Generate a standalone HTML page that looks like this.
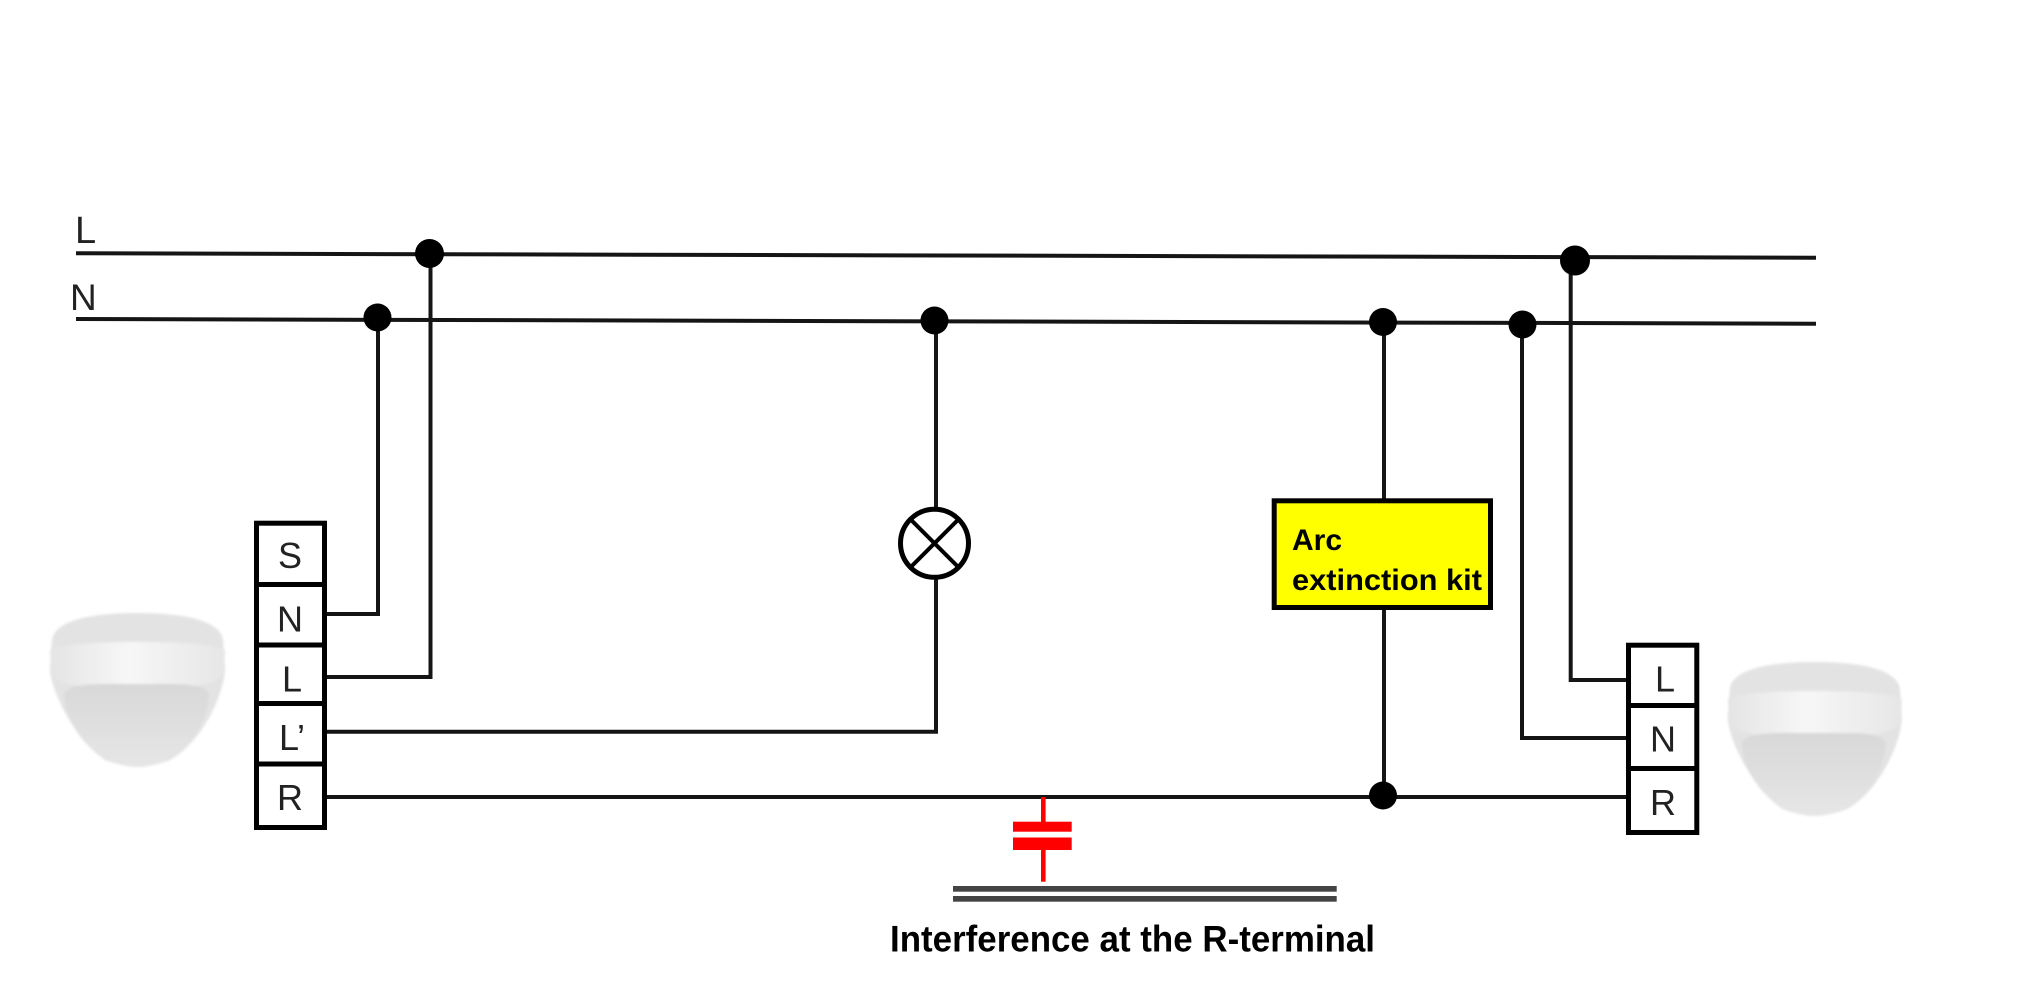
<!DOCTYPE html>
<html>
<head>
<meta charset="utf-8">
<style>
  html,body{margin:0;padding:0;background:#fff;}
  body{width:2025px;height:1002px;overflow:hidden;}
  svg{display:block;}
  .lbl{font-family:"Liberation Sans",sans-serif;fill:#222;}
  .b{font-family:"Liberation Sans",sans-serif;font-weight:bold;fill:#000;}
</style>
</head>
<body>
<svg width="2025" height="1002" viewBox="0 0 2025 1002" xmlns="http://www.w3.org/2000/svg">
  <defs>
    <filter id="soft" x="-10%" y="-10%" width="120%" height="120%">
      <feGaussianBlur stdDeviation="1.2"/>
    </filter>
    <linearGradient id="band" x1="0" y1="0" x2="1" y2="0">
      <stop offset="0" stop-color="#e4e4e4"/>
      <stop offset="0.45" stop-color="#f7f7f7"/>
      <stop offset="1" stop-color="#e6e6e6"/>
    </linearGradient>
    <linearGradient id="lens" x1="0" y1="0" x2="0" y2="1">
      <stop offset="0" stop-color="#d8d8d8"/>
      <stop offset="1" stop-color="#e6e6e6"/>
    </linearGradient>
    <g id="sensor">
      <g filter="url(#soft)">
        <!-- outer body / cap -->
        <path d="M52,640 C55,618 100,613 137,613 C175,613 220,618 223,640 L225,668 C225,690 205,740 170,760 C150,768 125,768 105,760 C75,740 50,690 50,668 Z" fill="#e3e3e3"/>
        <!-- band -->
        <path d="M50,650 C60,644 100,642 137,642 C175,642 215,644 225,650 L224,672 C215,690 180,686 137,686 C95,686 60,690 52,672 Z" fill="url(#band)"/>
        <!-- lens -->
        <path d="M64,694 C70,682 100,684 137,684 C175,684 204,682 209,694 C207,730 178,767 137,767 C98,767 66,730 64,694 Z" fill="url(#lens)"/>
      </g>
    </g>
  </defs>

  <!-- Labels L and N -->
  <text x="75" y="243" class="lbl" font-size="38">L</text>
  <text x="70" y="310" class="lbl" font-size="37">N</text>

  <g stroke="#151515" stroke-width="4" fill="none" stroke-linecap="butt">
    <!-- mains -->
    <line x1="76" y1="253.3" x2="1816" y2="257.7"/>
    <line x1="76" y1="319" x2="1816" y2="323.7"/>

    <!-- left sensor wiring -->
    <polyline points="378,318 378,614 327,614"/>
    <polyline points="430.5,253 430.5,677 327,677"/>
    <polyline points="327,731.7 936,731.7 936,578"/>
    <line x1="936" y1="320" x2="936" y2="508"/>
    <line x1="327" y1="797" x2="1626" y2="797"/>

    <!-- arc kit -->
    <line x1="1384" y1="322" x2="1384" y2="500"/>
    <line x1="1384" y1="608" x2="1384" y2="797"/>

    <!-- right sensor wiring -->
    <polyline points="1522,324 1522,738 1626,738"/>
    <polyline points="1570.7,258 1570.7,680 1626,680"/>
  </g>

  <!-- junction dots -->
  <g fill="#000">
    <circle cx="429.5" cy="253.5" r="14.5"/>
    <circle cx="377.5" cy="317.5" r="14"/>
    <circle cx="934.5" cy="320.5" r="14"/>
    <circle cx="1383" cy="322" r="14"/>
    <circle cx="1522.5" cy="324.5" r="14"/>
    <circle cx="1575" cy="260.5" r="15"/>
    <circle cx="1383" cy="795.5" r="14"/>
  </g>

  <!-- lamp -->
  <circle cx="934.5" cy="543.3" r="34" fill="#fff" stroke="#000" stroke-width="5"/>
  <g stroke="#000" stroke-width="4">
    <line x1="910.5" y1="519.3" x2="958.5" y2="567.3"/>
    <line x1="958.5" y1="519.3" x2="910.5" y2="567.3"/>
  </g>

  <!-- left terminal block -->
  <rect x="256.5" y="523.2" width="68" height="304.3" fill="#fff" stroke="#000" stroke-width="5"/>
  <g stroke="#000" stroke-width="5">
    <line x1="256" y1="584.5" x2="325" y2="584.5"/>
    <line x1="256" y1="645" x2="325" y2="645"/>
    <line x1="256" y1="703.5" x2="325" y2="703.5"/>
    <line x1="256" y1="764" x2="325" y2="764"/>
  </g>
  <g class="lbl" font-size="36" text-anchor="middle">
    <text x="290" y="568">S</text>
    <text x="290" y="631.5">N</text>
    <text x="292" y="691.5">L</text>
    <text x="292" y="750">L’</text>
    <text x="290" y="810">R</text>
  </g>

  <!-- right terminal block -->
  <rect x="1628.5" y="645.2" width="68.3" height="187.3" fill="#fff" stroke="#000" stroke-width="5"/>
  <g stroke="#000" stroke-width="5">
    <line x1="1628" y1="705.5" x2="1697" y2="705.5"/>
    <line x1="1628" y1="768.5" x2="1697" y2="768.5"/>
  </g>
  <g class="lbl" font-size="36" text-anchor="middle">
    <text x="1665" y="691.5">L</text>
    <text x="1663" y="751.5">N</text>
    <text x="1663" y="815">R</text>
  </g>

  <!-- arc extinction kit -->
  <rect x="1274.2" y="500.8" width="216.3" height="106.7" fill="#ffff00" stroke="#000" stroke-width="5"/>
  <text x="1292" y="550" class="b" font-size="30">Arc</text>
  <text x="1292" y="590" class="b" font-size="30" textLength="190" lengthAdjust="spacingAndGlyphs">extinction kit</text>

  <!-- red capacitor -->
  <g fill="#ff0000">
    <rect x="1041" y="797" width="4.6" height="25"/>
    <rect x="1013" y="821.7" width="58.7" height="10"/>
    <rect x="1013" y="837.5" width="58.7" height="12.5"/>
    <rect x="1041" y="850" width="4.6" height="31.7"/>
  </g>

  <!-- ground double line -->
  <rect x="953" y="886" width="383.7" height="5.7" fill="#444"/>
  <rect x="953" y="896" width="383.7" height="5.7" fill="#444"/>

  <text x="890" y="951.7" class="b" font-size="37" textLength="485" lengthAdjust="spacingAndGlyphs">Interference at the R-terminal</text>

  <!-- sensors -->
  <use href="#sensor"/>
  <use href="#sensor" transform="translate(1678,49) scale(0.995,1)"/>
</svg>
</body>
</html>
